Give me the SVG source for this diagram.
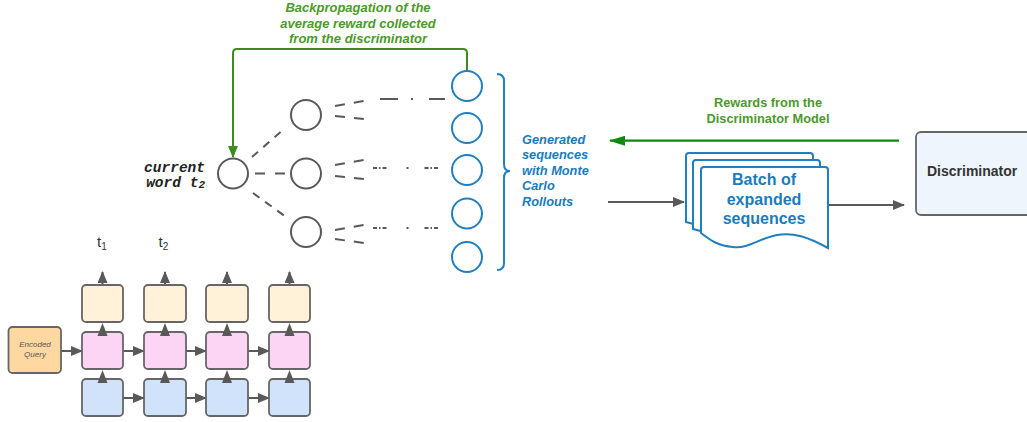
<svg xmlns="http://www.w3.org/2000/svg" width="1027" height="422" viewBox="0 0 1027 422">
<defs>
<style>
.g{fill:none;stroke:#595959;stroke-width:2}
.bc{fill:#fff;stroke:#1f7fc0;stroke-width:2}
.gc{fill:#fff;stroke:#595959;stroke-width:2}
.ds{fill:none;stroke:#595959;stroke-width:2}
.lbl{font-family:"Liberation Sans",Arial,sans-serif}
.box{stroke:#666;stroke-width:1.8}
.y{fill:#fff2d9}
.p{fill:#fdd5f4}
.b{fill:#d0e3fa}
.doc{fill:#fff;stroke:#1f7fc0;stroke-width:2}
</style>
<marker id="ah" viewBox="0 0 12 10" refX="11" refY="5" markerWidth="12" markerHeight="10" markerUnits="userSpaceOnUse" orient="auto"><path d="M0,0 L12,5 L0,10 Z" fill="#595959"/></marker>
<marker id="agr" viewBox="0 0 12 10" refX="11" refY="5" markerWidth="12" markerHeight="10" markerUnits="userSpaceOnUse" orient="auto"><path d="M0,0 L12,5 L0,10 Z" fill="#3d8c1f"/></marker>
<marker id="agr2" viewBox="0 0 16 10" refX="15" refY="5" markerWidth="16" markerHeight="10" markerUnits="userSpaceOnUse" orient="auto"><path d="M0,0 L16,5 L0,10 Z" fill="#0f8a0f"/></marker>
</defs>

<g id="connectors">
<!-- backprop -->
<path d="M467,71 L467,53 Q467,49 463,49 L237,49 Q233,49 233,53 L233,157" fill="none" stroke="#3d8c1f" stroke-width="2" marker-end="url(#agr)"/>
<!-- current to gray -->
<path class="ds" d="M252,157 L284,129" stroke-dasharray="8,7"/>
<path class="ds" d="M255,173.5 L286,173.5" stroke-dasharray="10,10"/>
<path class="ds" d="M253,193 L286,217" stroke-dasharray="8,7"/>
<!-- gray fan lines -->
<path class="ds" d="M335,106 L364,101" stroke-dasharray="10,9"/>
<path class="ds" d="M335,116 L364,119" stroke-dasharray="10,9"/>
<path class="ds" d="M335,165 L364,160" stroke-dasharray="10,9"/>
<path class="ds" d="M335,176 L364,179" stroke-dasharray="10,9"/>
<path class="ds" d="M335,230 L364,225" stroke-dasharray="10,9"/>
<path class="ds" d="M335,239 L364,243" stroke-dasharray="10,9"/>
<!-- rollouts -->
<path class="ds" d="M380,99 L445,99" stroke-dasharray="18,13,2,16,18"/>
<path class="ds" d="M373,168 L452,168" stroke-dasharray="4,2,1.5,2,4,20,2,16,4,2,1.5,2,4,20"/>
<path class="ds" d="M373,228 L452,228" stroke-dasharray="4,2,1.5,2,4,20,2,16,4,2,1.5,2,4,20"/>
<!-- rewards arrow -->
<path d="M899,140.7 L610,140.7" fill="none" stroke="#0f8a0f" stroke-width="2.2" marker-end="url(#agr2)"/>
<!-- to batch -->
<path class="g" d="M608,202 L684,202" marker-end="url(#ah)"/>
<!-- batch to discriminator -->
<path class="g" d="M829,205 L904,205" marker-end="url(#ah)"/>
<!-- rnn arrows -->
<path class="g" d="M102.5,285 L102.5,272" marker-end="url(#ah)"/>
<path class="g" d="M165,285 L165,272" marker-end="url(#ah)"/>
<path class="g" d="M227,285 L227,272" marker-end="url(#ah)"/>
<path class="g" d="M289.5,285 L289.5,272" marker-end="url(#ah)"/>
<path class="g" d="M61,351 L82,351" marker-end="url(#ah)"/>
<path class="g" d="M123,351 L144,351" marker-end="url(#ah)"/>
<path class="g" d="M186,351 L206,351" marker-end="url(#ah)"/>
<path class="g" d="M248,351 L269,351" marker-end="url(#ah)"/>
<path class="g" d="M123,398 L144,398" marker-end="url(#ah)"/>
<path class="g" d="M186,398 L206,398" marker-end="url(#ah)"/>
<path class="g" d="M248,398 L269,398" marker-end="url(#ah)"/>
</g>

<g id="rnn">
<rect class="box y" x="82" y="285" width="41" height="37" rx="4"/>
<rect class="box y" x="144" y="285" width="42" height="37" rx="4"/>
<rect class="box y" x="206" y="285" width="42" height="37" rx="4"/>
<rect class="box y" x="269" y="285" width="41" height="37" rx="4"/>
<rect class="box p" x="82" y="332" width="41" height="37" rx="4"/>
<rect class="box p" x="144" y="332" width="42" height="37" rx="4"/>
<rect class="box p" x="206" y="332" width="42" height="37" rx="4"/>
<rect class="box p" x="269" y="332" width="41" height="37" rx="4"/>
<rect class="box b" x="82" y="379" width="41" height="37" rx="4"/>
<rect class="box b" x="144" y="379" width="42" height="37" rx="4"/>
<rect class="box b" x="206" y="379" width="42" height="37" rx="4"/>
<rect class="box b" x="269" y="379" width="41" height="37" rx="4"/>
<!-- arrows between rows -->
<path d="M97.5,336 L102.5,323 L107.5,336 Z" fill="#595959"/>
<path d="M160,336 L165,323 L170,336 Z" fill="#595959"/>
<path d="M222,336 L227,323 L232,336 Z" fill="#595959"/>
<path d="M284.5,336 L289.5,323 L294.5,336 Z" fill="#595959"/>
<path d="M97.5,383 L102.5,370 L107.5,383 Z" fill="#595959"/>
<path d="M160,383 L165,370 L170,383 Z" fill="#595959"/>
<path d="M222,383 L227,370 L232,383 Z" fill="#595959"/>
<path d="M284.5,383 L289.5,370 L294.5,383 Z" fill="#595959"/>
</g>

<g id="encoded-query">
<rect x="8.5" y="327" width="52.5" height="46" rx="4" fill="#fed8a0" stroke="#666" stroke-width="1.8"/>
<text class="lbl" x="35" y="347" font-size="8" font-style="italic" fill="#555" text-anchor="middle">Encoded</text>
<text class="lbl" x="35" y="357" font-size="8" font-style="italic" fill="#555" text-anchor="middle">Query</text>
</g>

<g id="time-labels" class="lbl" fill="#333" font-size="15">
<text x="97" y="247">t<tspan font-size="10" dy="3">1</tspan></text>
<text x="158.5" y="247">t<tspan font-size="10" dy="3">2</tspan></text>
</g>

<g id="current-word">
<circle class="gc" cx="233" cy="173.5" r="15"/>
<text x="205" y="172" font-family="'Liberation Mono',monospace" font-weight="bold" font-style="italic" font-size="14.5" fill="#222" text-anchor="end">current</text>
<text x="205" y="187" font-family="'Liberation Mono',monospace" font-weight="bold" font-style="italic" font-size="14.5" fill="#222" text-anchor="end">word t<tspan font-size="11" dy="1">2</tspan></text>
</g>

<g id="expansion-nodes">
<circle class="gc" cx="306" cy="115" r="15"/>
<circle class="gc" cx="306" cy="173.5" r="15"/>
<circle class="gc" cx="306" cy="232" r="15"/>
</g>

<g id="rollout-nodes">
<circle class="bc" cx="467" cy="86" r="15"/>
<circle class="bc" cx="467" cy="128" r="15"/>
<circle class="bc" cx="467" cy="170" r="15"/>
<circle class="bc" cx="467" cy="213.5" r="15"/>
<circle class="bc" cx="467" cy="257" r="15"/>
<path d="M497,74 Q504,74 504,81 L504,164 Q504,171 510,171 Q504,171 504,178 L504,263 Q504,270 497,270" fill="none" stroke="#1f7fc0" stroke-width="2"/>
</g>

<g id="backprop-label" class="lbl" font-size="13" font-weight="bold" font-style="italic" fill="#4a9a2a" text-anchor="middle">
<text x="358" y="12">Backpropagation of the</text>
<text x="358" y="27.5">average reward collected</text>
<text x="358" y="43">from the discriminator</text>
</g>

<g id="generated-label" class="lbl" font-size="12.8" font-weight="bold" font-style="italic" fill="#1a7bbd">
<text x="522" y="143.5">Generated</text>
<text x="522" y="159">sequences</text>
<text x="522" y="174.5">with Monte</text>
<text x="522" y="190">Carlo</text>
<text x="522" y="205.5">Rollouts</text>
</g>

<g id="rewards-label" class="lbl" font-size="12.8" font-weight="bold" fill="#4a9a2a" text-anchor="middle">
<text x="768" y="107">Rewards from the</text>
<text x="768" y="123">Discriminator Model</text>
</g>

<g id="batch">
<path class="doc" d="M686,156 Q686,153 689,153 L810,153 Q813,153 813,156 L813,234 C785,218 762,214 745,222 C730,229 713,230 686,222 Z"/>
<path class="doc" d="M693,163 Q693,160 696,160 L817,160 Q820,160 820,163 L820,241 C792,225 769,221 752,229 C737,236 720,237 693,229 Z"/>
<path class="doc" d="M701,170 Q701,167 704,167 L825,167 Q828,167 828,170 L828,248 C808,237 793,232 777,235 C760,238 748,249 733,247 C718,246 710,240 701,233 Z"/>
<g class="lbl" font-size="16" font-weight="bold" fill="#1a7bbd" text-anchor="middle">
<text x="764" y="185">Batch of</text>
<text x="764" y="204.5">expanded</text>
<text x="764" y="224">sequences</text>
</g>
</g>

<g id="discriminator">
<rect x="916" y="132" width="130" height="83" rx="5" fill="#eef5fd" stroke="#666" stroke-width="1.8"/>
<text class="lbl" x="927" y="176" font-size="14" font-weight="bold" fill="#333">Discriminator</text>
</g>
</svg>
